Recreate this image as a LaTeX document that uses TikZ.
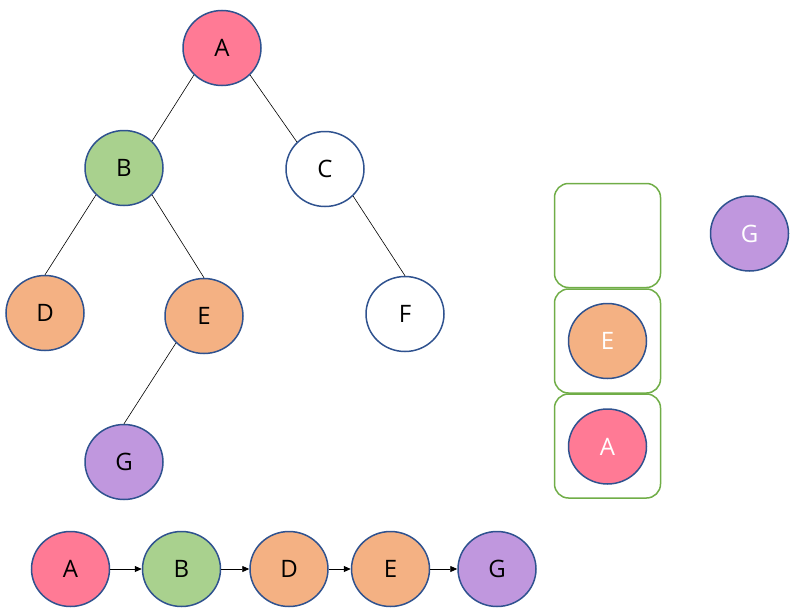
\documentclass[tikz,border=0pt]{standalone}
\usepackage{fontspec}
\setmainfont{Open Sans}
\usetikzlibrary{shapes.geometric,arrows.meta}
\definecolor{nborder}{HTML}{2F528F}
\definecolor{cpink}{HTML}{FF7A95}
\definecolor{cgreen}{HTML}{A9D18E}
\definecolor{corange}{HTML}{F4B183}
\definecolor{cpurple}{HTML}{C097DE}
\definecolor{cbox}{HTML}{70AD47}
\tikzset{
  nd/.style={ellipse, draw=nborder, line width=1.5pt, minimum width=78pt, minimum height=75pt, inner sep=0pt, font=\fontsize{24}{24}\selectfont},
  wt/.style={text=white},
  edge/.style={draw=black, line width=0.6pt},
  arr/.style={draw=black, line width=0.8pt, -{Triangle[length=7pt,width=6pt]}},
  slot/.style={draw=cbox, line width=1.5pt, rounded corners=14pt, minimum width=106pt, minimum height=104pt, inner sep=0pt}
}
\begin{document}
\begin{tikzpicture}[x=1pt,y=-1pt]
\useasboundingbox (0,0) rectangle (802,613);
% tree
\node[nd, fill=cpink] (A) at (222,48) {A};
\node[nd, fill=cgreen] (B) at (124,168) {B};
\node[nd, fill=white] (C) at (325,169) {C};
\node[nd, fill=corange] (D) at (45,313) {D};
\node[nd, fill=corange] (E) at (204,316) {E};
\node[nd, fill=white] (F) at (405,314) {F};
\node[nd, fill=cpurple] (G) at (124,462) {G};
\draw[edge] (A.south west) -- (B.north east);
\draw[edge] (A.south east) -- (C.north west);
\draw[edge] (B.south west) -- (D.north);
\draw[edge] (B.south east) -- (E.north);
\draw[edge] (C.south east) -- (F.north);
\draw[edge] (E.south west) -- (G.north);
% stack
\node[slot] (s3) at (607.5,235.5) {};
\node[slot] (s2) at (607.5,341) {};
\node[slot] (s1) at (607.5,446) {};
\node[nd, fill=corange, wt] (SE) at (607.5,341) {E};
\node[nd, fill=cpink, wt] (SA) at (607.5,446.5) {A};
\node[nd, fill=cpurple, wt] (RG) at (749.5,233.5) {G};
% sequence
\node[nd, fill=cpink] (LA) at (70.5,569) {A};
\node[nd, fill=cgreen] (LB) at (181.5,569) {B};
\node[nd, fill=corange] (LD) at (289,569) {D};
\node[nd, fill=corange] (LE) at (390.5,569) {E};
\node[nd, fill=cpurple] (LG) at (497,569) {G};
\draw[arr] (LA) -- (LB);
\draw[arr] (LB) -- (LD);
\draw[arr] (LD) -- (LE);
\draw[arr] (LE) -- (LG);
\end{tikzpicture}
\end{document}
